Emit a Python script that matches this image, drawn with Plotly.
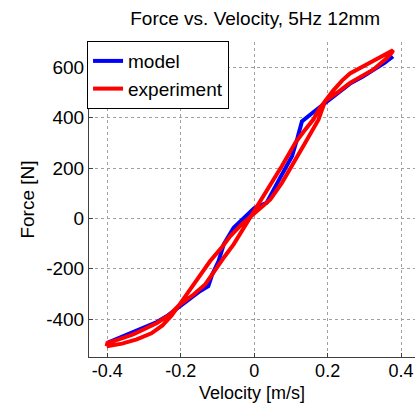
import plotly.graph_objects as go

# Model (blue)
model_v = [-0.40, -0.365, -0.33, -0.295, -0.265, -0.235, -0.206, -0.175, -0.147, -0.125,
           -0.115, -0.097, -0.083, -0.056, -0.029, -0.015, 0.0, 0.034, 0.07, 0.103,
           0.118, 0.13, 0.16, 0.199, 0.23, 0.261, 0.295, 0.324, 0.355, 0.378]
model_f = [-494, -472, -452, -430, -411, -385, -352, -318, -288, -269,
           -225, -169, -103, -37, 3, 20, 40, 62, 160, 247,
           320, 385, 420, 463, 500, 535, 562, 587, 617, 643]

# Experiment (red): loop, forward branch then return branch
exp_v = [-0.402, -0.36, -0.32, -0.28, -0.25, -0.225, -0.205, -0.18, -0.15,
         -0.12, -0.09, -0.065, -0.035, -0.005, 0.02, 0.044, 0.075, 0.103,
         0.139, 0.175, 0.193, 0.215, 0.24, 0.261, 0.29, 0.324, 0.35, 0.368, 0.378,
         0.376, 0.36, 0.324, 0.29, 0.261, 0.23, 0.193, 0.175, 0.161, 0.135, 0.112,
         0.075, 0.045, 0.021, -0.005, -0.03, -0.056, -0.08, -0.10, -0.133, -0.165,
         -0.205, -0.23, -0.265, -0.30, -0.33, -0.365, -0.40, -0.402]
exp_f = [-507, -497, -480, -456, -425, -385, -345, -295, -235,
         -169, -118, -70, -25, 15, 45, 75, 140, 207,
         300, 392, 465, 507, 548, 575, 598, 624, 645, 660, 667,
         660, 634, 590, 562, 538, 503, 465, 430, 392, 345, 300,
         207, 135, 75, 15, -45, -103, -150, -190, -261, -302,
         -345, -382, -415, -440, -460, -478, -495, -507]

x_ticks = [-0.4, -0.2, 0, 0.2, 0.4]
x_labels = ["-0.4", "-0.2", "0", "0.2", "0.4"]
y_ticks = [-400, -200, 0, 200, 400, 600]
y_labels = ["-400", "-200", "0", "200", "400", "600"]

FONT = "Arial, Liberation Sans, Helvetica, sans-serif"
FS = 19

fig = go.Figure()
fig.add_trace(go.Scatter(x=model_v, y=model_f, mode="lines", name="model",
                         line=dict(color="#0000ff", width=4)))
fig.add_trace(go.Scatter(x=exp_v, y=exp_f, mode="lines", name="experiment",
                         line=dict(color="#ff0000", width=4)))

fig.update_layout(
    width=415, height=403,
    margin=dict(l=89, r=0, t=42, b=46),
    paper_bgcolor="white", plot_bgcolor="white",
    font=dict(family=FONT, size=FS, color="black"),
    title=dict(text="Force vs. Velocity, 5Hz 12mm", x=0.615, xanchor="center",
               y=0.955, yanchor="middle", font=dict(size=FS, color="black")),
    showlegend=True,
    legend=dict(x=-0.006, y=1.003, xanchor="left", yanchor="top",
                bgcolor="white", bordercolor="black", borderwidth=1,
                font=dict(size=FS, color="black"),
                tracegroupgap=0, itemwidth=30),
    xaxis=dict(range=[-0.45, 0.438], tickvals=x_ticks, ticktext=x_labels,
               showgrid=True, gridcolor="#a0a0a0", griddash="dot", gridwidth=1,
               zeroline=False, showline=True, linecolor="#404040", linewidth=1,
               ticks="inside", ticklen=4, tickcolor="#404040",
               ticklabelstandoff=-3,
               tickfont=dict(size=18, color="black")),
    yaxis=dict(range=[-550, 700], tickvals=y_ticks, ticktext=y_labels,
               showgrid=True, gridcolor="#a0a0a0", griddash="dot", gridwidth=1,
               zeroline=False, showline=True, linecolor="#404040", linewidth=1,
               ticks="inside", ticklen=4, tickcolor="#404040",
               tickfont=dict(size=FS, color="black"),
               title=dict(text="Force [N]", font=dict(size=FS), standoff=6)),
    annotations=[dict(text="Velocity [m/s]", xref="paper", yref="paper",
                      x=0.5, y=-0.078, xanchor="center", yanchor="top",
                      showarrow=False, font=dict(size=18, color="black"),
                      borderpad=0)],
)

fig.write_html("out.html")
